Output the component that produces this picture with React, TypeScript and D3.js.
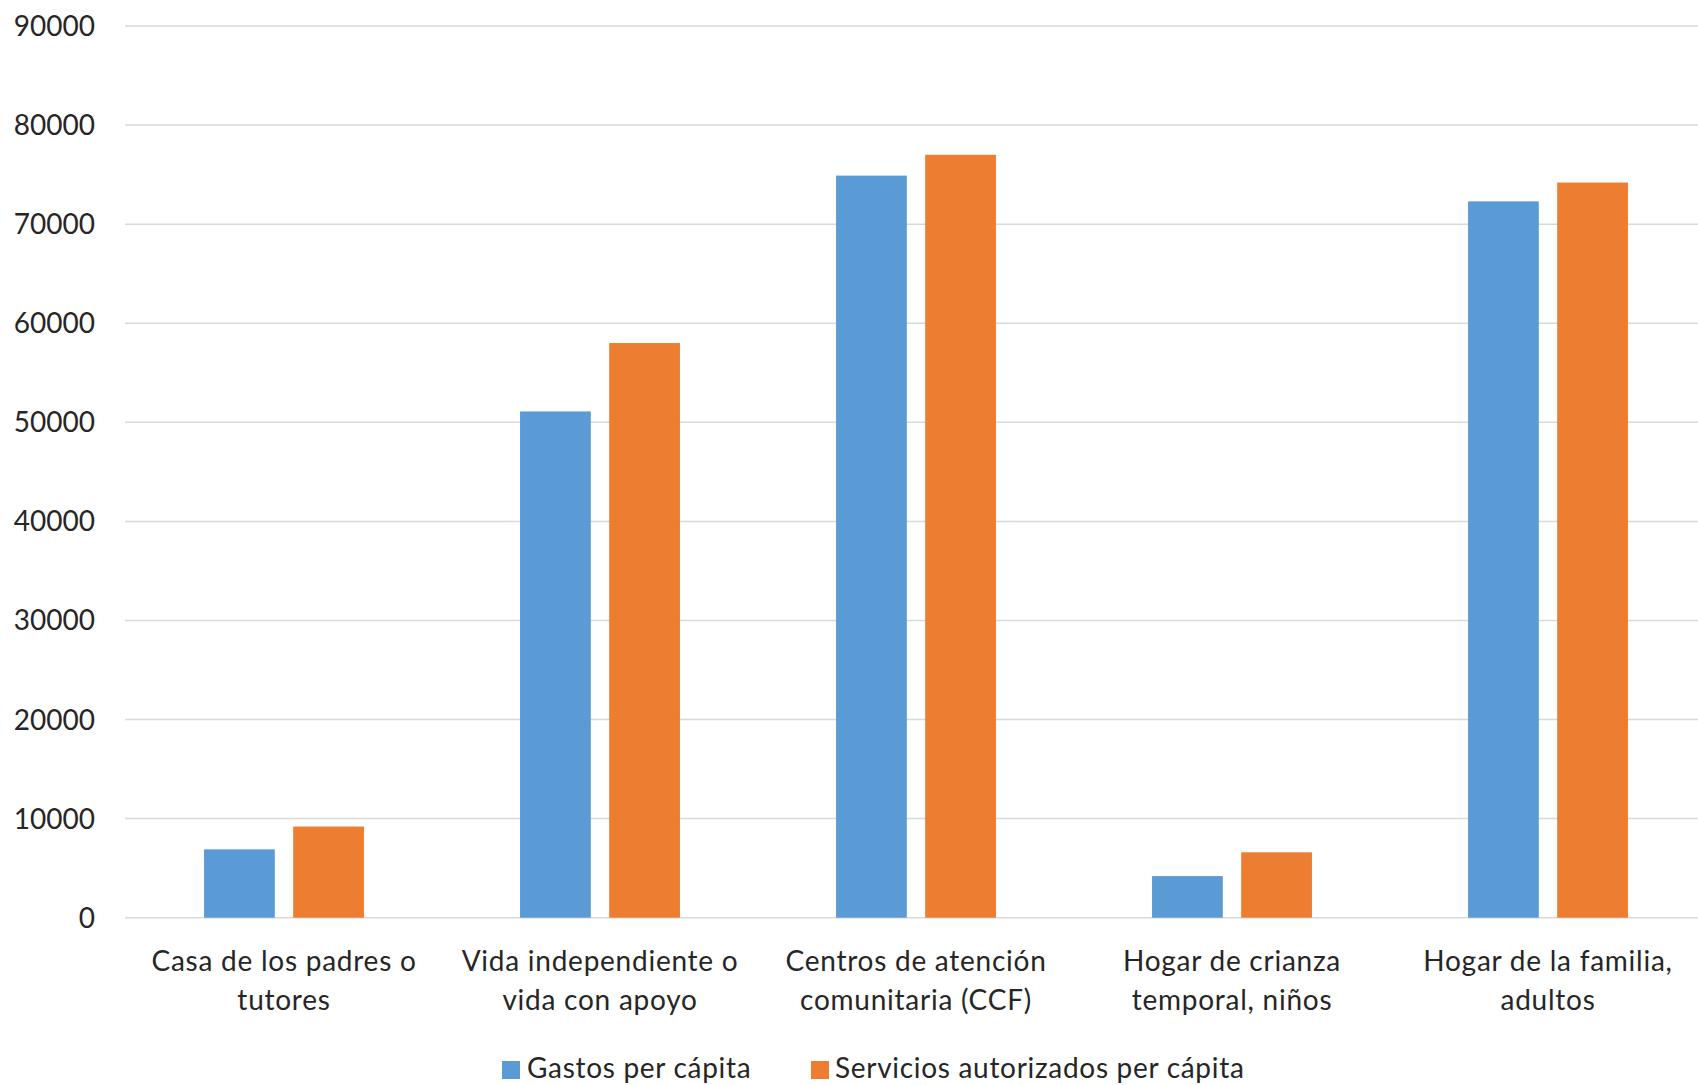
import React from "react";
import * as d3 from "d3";

const categories: string[][] = [
  ["Casa de los padres o", "tutores"],
  ["Vida independiente o", "vida con apoyo"],
  ["Centros de atención", "comunitaria (CCF)"],
  ["Hogar de crianza", "temporal, niños"],
  ["Hogar de la familia,", "adultos"],
];
const seriesNames = ["Gastos per cápita", "Servicios autorizados per cápita"];
const gastos = [6900, 51100, 74900, 4200, 72300];
const servicios = [9200, 58000, 77000, 6600, 74200];
const yTicks = [0, 10000, 20000, 30000, 40000, 50000, 60000, 70000, 80000, 90000];
const colors = ["#5B9BD5", "#ED7D31"];

const W = 1698;
const H = 1085;
const FONT = "Lato, 'Noto Sans', sans-serif";

export default function App() {
  const keys = categories.map((c) => c.join(" "));
  const x0 = d3
    .scaleBand<string>()
    .domain(keys)
    .range([126, 1706])
    .paddingInner(0.494)
    .paddingOuter(0.247);
  const x1 = d3
    .scaleBand<string>()
    .domain(seriesNames)
    .range([0, x0.bandwidth()])
    .paddingInner(0.206);
  const y = d3.scaleLinear().domain([0, 90000]).range([917.7, 26]);
  const series = [gastos, servicios];

  return (
    <svg
      width={W}
      height={H}
      style={{ position: "absolute", left: 0, top: 0, background: "#fff" }}
      fontFamily={FONT}
    >
      <rect x={0} y={0} width={W} height={H} fill="#fff" />
      {yTicks.map((t) => (
        <g key={t}>
          <line x1={125} x2={W} y1={y(t)} y2={y(t)} stroke="#D9D9D9" strokeWidth={1.5} />
          <text x={95} y={y(t) + 10} textAnchor="end" fontSize={28} fill="#262626">
            {t}
          </text>
        </g>
      ))}
      {keys.map((k, i) => (
        <g key={k} transform={`translate(${x0(k)},0)`}>
          {seriesNames.map((s, j) => (
            <rect
              key={s}
              x={x1(s)}
              y={y(series[j][i])}
              width={x1.bandwidth()}
              height={y(0) - y(series[j][i])}
              fill={colors[j]}
            />
          ))}
          {categories[i].map((line, li) => (
            <text
              key={li}
              x={x0.bandwidth() / 2}
              y={971 + li * 39}
              textAnchor="middle"
              fontSize={28}
              letterSpacing={0.75}
              fill="#262626"
            >
              {line}
            </text>
          ))}
        </g>
      ))}
      <g>
        <rect x={502} y={1061} width={18} height={18} fill={colors[0]} />
        <text x={527} y={1078} fontSize={28} letterSpacing={0.7} fill="#262626">
          {seriesNames[0]}
        </text>
        <rect x={811} y={1061} width={18} height={18} fill={colors[1]} />
        <text x={835} y={1078} fontSize={28} letterSpacing={0.7} fill="#262626">
          {seriesNames[1]}
        </text>
      </g>
    </svg>
  );
}
